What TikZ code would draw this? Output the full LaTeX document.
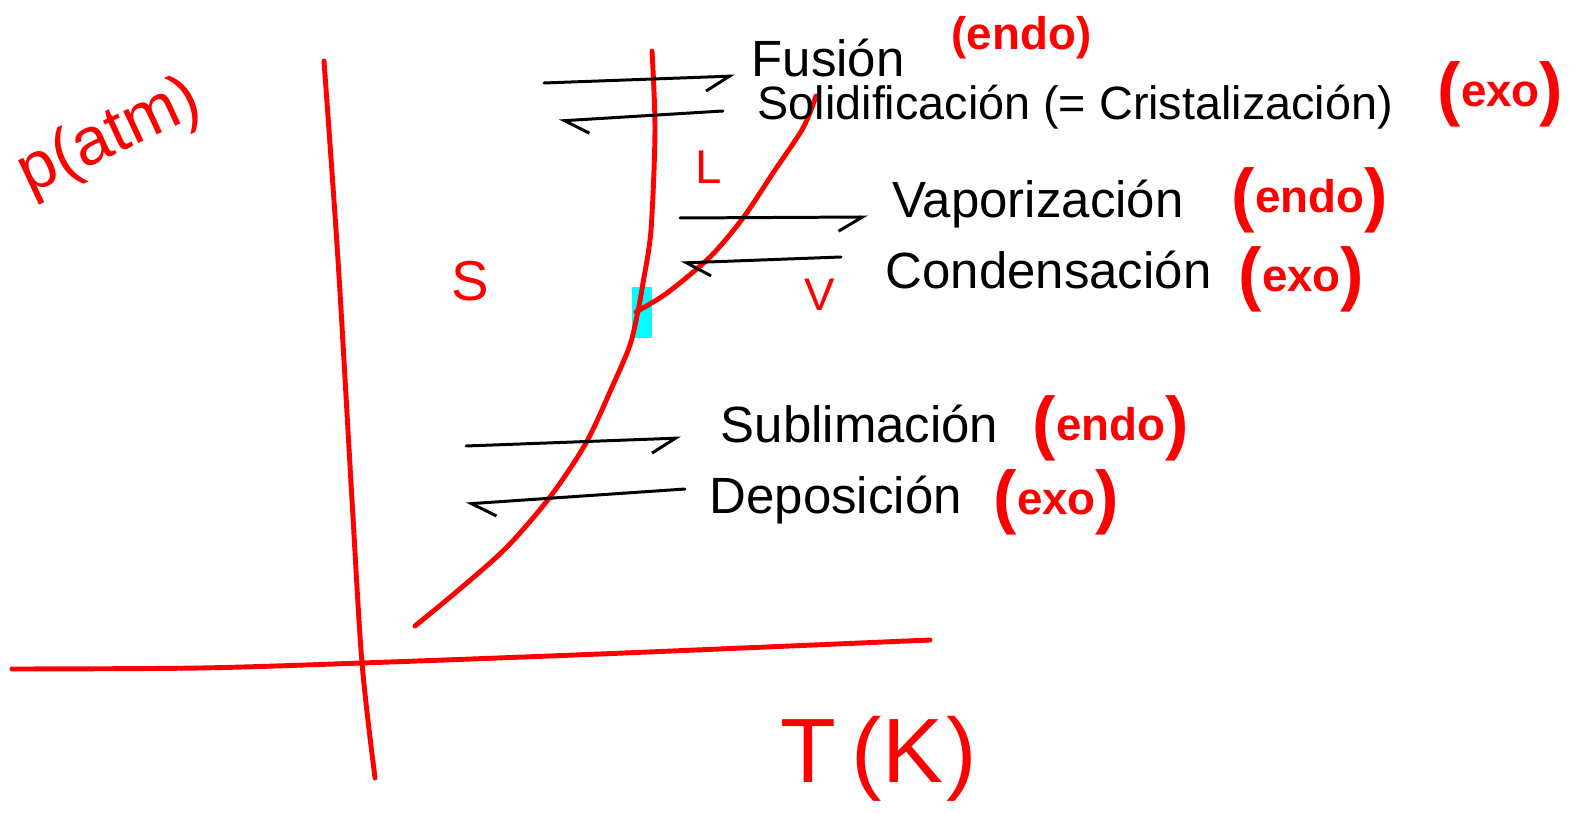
\documentclass[tikz,border=0pt]{standalone}
\usepackage{fontspec}
\setmainfont{Liberation Sans}
\usepackage{xcolor}
\usetikzlibrary{arrows.meta}

\definecolor{tripleCyan}{RGB}{0,255,255}

% big brackets round a small word
\newcommand{\heat}[1]{{\fontsize{20}{20}\selectfont(}\raisebox{1.6pt}{#1}{\fontsize{20}{20}\selectfont)}}

\begin{document}
\begin{tikzpicture}[
    x=0.1mm, y=-0.1mm,
    red line/.style={red, line width=1.4pt, line cap=round, line join=round},
    phase arrow/.style={black, line width=0.85pt, line cap=round},
    right arrow/.style={phase arrow, -{Straight Barb[harpoon, swap, length=2.4mm, width=2.8mm]}},
    left arrow/.style={phase arrow, -{Straight Barb[harpoon, length=2.4mm, width=2.8mm]}},
    process label/.style={anchor=base west, inner sep=0pt, font=\fontsize{14.5}{16}\selectfont},
    heat label/.style={anchor=west, inner sep=0pt, text=red, font=\bfseries\fontsize{13}{15}\selectfont},
    region label/.style={text=red, inner sep=0pt}
]
\useasboundingbox (0,0) rectangle (1589,814);

% --- 1. Triple point mark ---
\fill[tripleCyan] (632,287) rectangle (652,338);

% --- 2. Axes ---
\draw[red line] plot[smooth] coordinates {(324,61) (338,260) (352,500) (362,663) (375,778)};
\draw[red line] plot[smooth] coordinates {(12,669) (200,668) (362,663) (600,654) (930,640)};

\node[region label, rotate=25, font=\fontsize{19}{20}\selectfont] (pLabel) at (110,138) {p(atm)};
\node[region label, anchor=base west, font=\fontsize{26}{28}\selectfont] (tLabel) at (780,783) {T\,(K\kern1pt)};

% --- 3. Phase boundaries ---
% fusion line, running on into the sublimation curve
\draw[red line] plot[smooth] coordinates {
    (652,51) (655,130) (651,230) (643,283) (638,311) (630,345)
    (613,385) (586,443) (550,497) (507,547) (461,588) (415,626)};
% vaporization curve
\draw[red line] plot[smooth] coordinates {
    (636,312) (667,293) (710,257) (743,218) (773,173) (803,128) (816,96)};

\node[region label, font=\fontsize{16}{18}\selectfont] (sRegion) at (470,281) {S};
\node[region label, font=\fontsize{13.5}{15}\selectfont] (lRegion) at (709,167) {L};
\node[region label, font=\fontsize{13}{15}\selectfont] (vRegion) at (820,295) {V};

% --- 4. Changes of state ---
\foreach \xa/\ya/\xb/\yb in {544/83/735/76, 680/218/868/217, 466/446/681/438}{
    \draw[right arrow] (\xa,\ya) -- (\xb,\yb);
}
\foreach \xa/\ya/\xb/\yb in {723/111/559/121, 841/257/681/263, 685/489/466/504}{
    \draw[left arrow] (\xa,\ya) -- (\xb,\yb);
}

\node[process label] (fusion) at (751,77) {Fusión};
\node[process label, font=\fontsize{13.3}{15}\selectfont] (solid) at (757,120) {Solidificación (= Cristalización)};
\node[process label] (vapor) at (892,218) {Vaporización};
\node[process label] (conden) at (885,289) {Condensación};
\node[process label] (sublim) at (720,443) {Sublimación};
\node[process label] (depos) at (709,514) {Deposición};

\node[heat label] (fusionHeat) at (951,38) {(endo)};
\node[heat label] (solidHeat) at (1437,94) {\heat{exo}};
\node[heat label] (vaporHeat) at (1231,200) {\heat{endo}};
\node[heat label] (condenHeat) at (1238,279) {\heat{exo}};
\node[heat label] (sublimHeat) at (1032,428) {\heat{endo}};
\node[heat label] (deposHeat) at (993,502) {\heat{exo}};

\end{tikzpicture}
\end{document}
